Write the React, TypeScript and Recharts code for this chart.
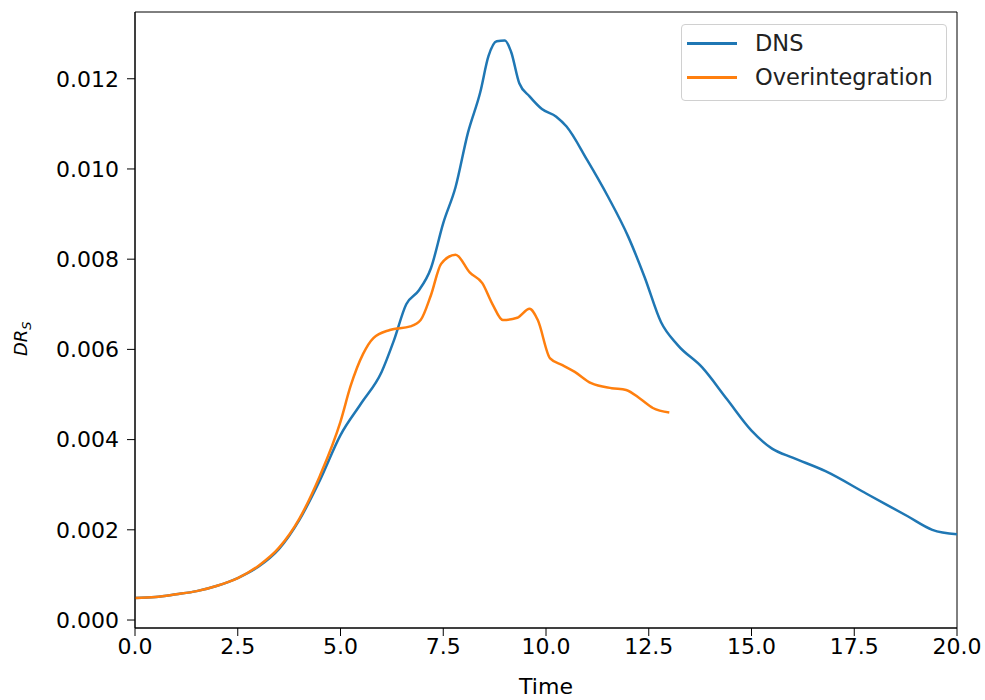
import { Line, LineChart, ReferenceArea, XAxis, YAxis } from "recharts";

const dnsTime = [
  0, 0.5, 1, 1.5, 2, 2.5, 3, 3.5, 4, 4.5, 5, 5.5, 6, 6.3, 6.6, 6.9, 7.2, 7.5, 7.8, 8.1, 8.4, 8.6, 8.8, 9,
  9.15, 9.35, 9.6, 9.9, 10.25, 10.5, 11, 11.5, 12, 12.4, 12.8, 13.2, 13.8, 14.4, 15, 15.5, 16, 16.8, 17.8,
  18.8, 19.4, 20,
];
const dnsValues = [
  0.00049, 0.00051, 0.00057, 0.00064, 0.00076, 0.00093, 0.00118, 0.00157, 0.00222, 0.0031, 0.0041, 0.0048,
  0.0055, 0.0062, 0.007, 0.0073, 0.0078, 0.0088, 0.0096, 0.0108, 0.0117, 0.0125, 0.01283, 0.01285, 0.0126,
  0.0119, 0.01161, 0.01133, 0.01116, 0.01094, 0.0102, 0.0094, 0.0085, 0.0076, 0.0066, 0.0061, 0.0056, 0.0049,
  0.0042, 0.0038, 0.0036, 0.0033, 0.0028, 0.0023, 0.002, 0.0019,
];

const overTime = [
  0, 0.5, 1, 1.5, 2, 2.5, 3, 3.5, 4, 4.5, 5, 5.25, 5.55, 5.8, 6.2, 6.7, 6.95, 7.2, 7.45, 7.8, 8.15, 8.45,
  8.7, 8.95, 9.3, 9.6, 9.8, 10.1, 10.4, 10.7, 11.1, 11.6, 11.95, 12.3, 12.6, 13,
];
const overValues = [
  0.00049, 0.00051, 0.00057, 0.00064, 0.00076, 0.00093, 0.0012, 0.0016, 0.00225, 0.0032, 0.0044, 0.0052,
  0.0059, 0.00625, 0.00643, 0.00651, 0.00665, 0.0072, 0.0079, 0.0081, 0.0077, 0.00747, 0.007, 0.00665,
  0.0067, 0.0069, 0.00665, 0.0058, 0.00565, 0.0055, 0.00525, 0.00514, 0.0051, 0.0049, 0.0047, 0.0046,
];

const xTicks = [0, 2.5, 5, 7.5, 10, 12.5, 15, 17.5, 20];
const yTicks = [0, 0.002, 0.004, 0.006, 0.008, 0.01, 0.012];
const yMin = -0.000177;
const yMax = 0.01348;

const dnsData = dnsTime.map((t, i) => ({ t, v: dnsValues[i] }));
const overData = overTime.map((t, i) => ({ t, v: overValues[i] }));

const FONT = "DejaVu Sans";
const FS = 22;
const BLUE = "#1f77b4";
const ORANGE = "#ff7f0e";

const legendItems = [
  { name: "DNS", color: BLUE },
  { name: "Overintegration", color: ORANGE },
];

// rotated y label, DR with subscript S
const YLabel = () => (
  <text
    x={27}
    y={356}
    transform="rotate(-90, 27, 356)"
    textAnchor="start"
    fontFamily={FONT}
    fontSize={18}
    fill="#000"
  >
    <tspan fontStyle="italic">DR</tspan>
    <tspan fontStyle="italic" fontSize={13} dy={4}>
      S
    </tspan>
  </text>
);

export default function App() {
  return (
    <div
      style={{
        position: "fixed",
        left: 0,
        top: 0,
        width: 985,
        height: 700,
        overflow: "hidden",
        background: "#fff",
      }}
    >
      <LineChart width={985} height={700} margin={{ top: 12, right: 28, bottom: 0, left: 0 }}>
        <XAxis
          dataKey="t"
          type="number"
          domain={[0, 20]}
          ticks={xTicks}
          allowDataOverflow
          tickFormatter={(v: number) => v.toFixed(1)}
          height={72}
          tickSize={8}
          tickMargin={2}
          stroke="#000"
          tick={{ fill: "#000", fontFamily: FONT, fontSize: FS }}
          label={{ value: "Time", position: "insideBottom", offset: 6, fill: "#000", fontFamily: FONT, fontSize: FS }}
        />
        <YAxis
          type="number"
          domain={[yMin, yMax]}
          ticks={yTicks}
          allowDataOverflow
          tickFormatter={(v: number) => v.toFixed(3)}
          width={135}
          tickSize={8}
          tickMargin={8}
          stroke="#000"
          tick={{ fill: "#000", fontFamily: FONT, fontSize: FS }}
          label={<YLabel />}
        />
        <ReferenceArea x1={0} x2={20} y1={yMin} y2={yMax} fill="none" stroke="#000" strokeWidth={1} ifOverflow="visible" />
        <Line
          data={dnsData}
          dataKey="v"
          name="DNS"
          type="monotone"
          stroke={BLUE}
          strokeWidth={2.5}
          dot={false}
          isAnimationActive={false}
        />
        <Line
          data={overData}
          dataKey="v"
          name="Overintegration"
          type="monotone"
          stroke={ORANGE}
          strokeWidth={2.5}
          dot={false}
          isAnimationActive={false}
        />
      </LineChart>
      <div
        style={{
          position: "absolute",
          left: 681,
          top: 24,
          width: 266,
          boxSizing: "border-box",
          border: "1px solid #d0d0d0",
          borderRadius: 4,
          background: "rgba(255,255,255,0.8)",
          padding: "1px 5px 6px 5px",
          fontFamily: FONT,
          fontSize: 22.5,
          color: "#222",
        }}
      >
        {legendItems.map((it) => (
          <div key={it.name} style={{ display: "flex", alignItems: "center", height: 34 }}>
            <span style={{ display: "inline-block", width: 50, height: 3, background: it.color, marginRight: 18 }} />
            <span>{it.name}</span>
          </div>
        ))}
      </div>
    </div>
  );
}
